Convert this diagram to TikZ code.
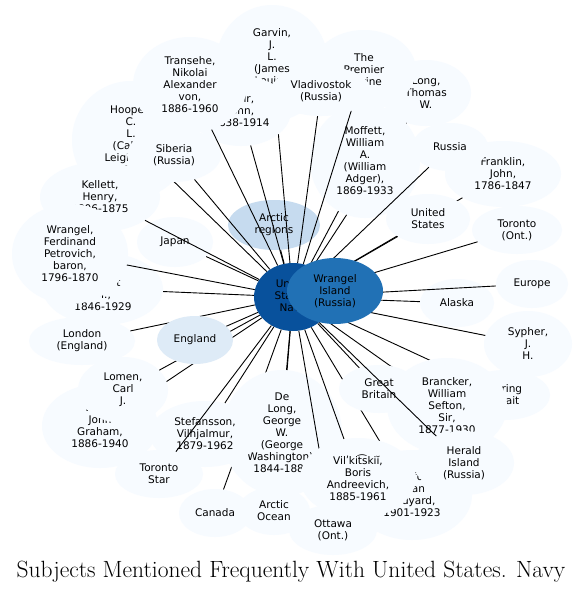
\documentclass[tikz,border=0pt]{standalone}
\usepackage{fontspec}
\newfontfamily\lblfont{DejaVu Sans}
\usetikzlibrary{shapes.geometric}
\definecolor{lite}{HTML}{F7FBFF}
\definecolor{midlite}{HTML}{C6DBEF}
\definecolor{pale}{HTML}{DEEBF7}
\definecolor{wrblue}{HTML}{2171B5}
\definecolor{navyblue}{HTML}{08519C}
\tikzset{
  bub/.style={ellipse, fill=lite, draw=none, inner sep=0pt, align=center,
    font=\lblfont\fontsize{10.5}{12}\selectfont, text=black},
  sz/.style 2 args={minimum width=#1pt, minimum height=#2pt},
  conn/.style={draw=black, line width=0.9pt},
}
\begin{document}
\begin{tikzpicture}[x=1pt,y=-1pt]
\useasboundingbox (0,0) rectangle (584,592);
\fill[white] (0,0) rectangle (584,592);

\node[bub, fill=navyblue, sz={78}{68}] (navy) at (293,297) {United\\States.\\Navy};
\node[bub, fill=midlite, sz={92}{50}] (arctic) at (274,225) {Arctic\\regions};
\node[bub, sz={76}{50}] (japan) at (175,242) {Japan};

\node[bub, sz={118}{118}] (hooper) at (131,140) {Hooper,\\C.\\L.\\(Calvin\\Leighton),\\1842-1900};
\draw[conn] (navy) -- (hooper);
\node[bub, sz={112}{116}] (garvin) at (272,63) {Garvin,\\J.\\L.\\(James\\Louis),\\1868-1947};
\draw[conn] (navy) -- (garvin);
\node[bub, sz={100}{70}] (muir) at (241,111) {Muir,\\John,\\1838-1914};
\draw[conn] (navy) -- (muir);
\node[bub, sz={114}{96}] (transehe) at (190,85) {Transehe,\\Nikolai\\Alexander\\von,\\1886-1960};
\draw[conn] (navy) -- (transehe);
\node[bub, sz={94}{54}] (siberia) at (174,155) {Siberia\\(Russia)};
\draw[conn] (navy) -- (siberia);
\node[bub, sz={120}{70}] (kellett) at (100,197) {Kellett,\\Henry,\\1806-1875};
\draw[conn] (navy) -- (kellett);
\node[bub, sz={120}{72}] (berry) at (103,289) {Berry,\\Robert\\M.,\\1846-1929};
\draw[conn] (navy) -- (berry);
\node[bub, sz={116}{100}] (wrangelf) at (70,254) {Wrangel,\\Ferdinand\\Petrovich,\\baron,\\1796-1870};
\draw[conn] (navy) -- (wrangelf);
\node[bub, sz={106}{48}] (london) at (82,341) {London\\(England)};
\draw[conn] (navy) -- (london);
\draw[conn] (navy) -- (japan);
\draw[conn] (navy) -- (arctic);

\node[bub, sz={116}{84}] (ljohn) at (100,426) {Lunn,\\John\\Graham,\\1886-1940};
\draw[conn] (navy) -- (ljohn);
\node[bub, sz={90}{66}] (lomen) at (123,390) {Lomen,\\Carl\\J.};
\draw[conn] (navy) -- (lomen);
\node[bub, fill=pale, sz={76}{48}] (england) at (195,340) {England};
\draw[conn] (navy) -- (england);

\node[bub, sz={72}{48}] (canada) at (215,513) {Canada};
\draw[conn] (navy) -- (canada);
\node[bub, sz={72}{48}] (arcocean) at (274,511) {Arctic\\Ocean};
\draw[conn] (navy) -- (arcocean);
\node[bub, sz={120}{126}] (delong) at (282,433) {De\\Long,\\George\\W.\\(George\\Washington),\\1844-1881};
\draw[conn] (navy) -- (delong);
\node[bub, sz={110}{66}] (stef) at (205,434) {Stefansson,\\Vilhjalmur,\\1879-1962};
\draw[conn] (navy) -- (stef);
\node[bub, sz={88}{48}] (tstar) at (159,474) {Toronto\\Star};
\draw[conn] (navy) -- (tstar);
\node[bub, sz={88}{50}] (ottawa) at (333,530) {Ottawa\\(Ont.)};
\draw[conn] (navy) -- (ottawa);
\node[bub, sz={120}{90}] (crawford) at (412,495) {Crawford,\\Allan\\Rudyard,\\1901-1923};
\draw[conn] (navy) -- (crawford);
\node[bub, sz={116}{80}] (vilk) at (358,478) {Vilʹkit͡skiĭ,\\Boris\\Andreevich,\\1885-1961};
\draw[conn] (navy) -- (vilk);

\node[bub, sz={90}{50}] (bering) at (505,395) {Bering\\Strait};
\draw[conn] (navy) -- (bering);
\node[bub, sz={120}{96}] (brancker) at (447,406) {Brancker,\\William\\Sefton,\\Sir,\\1877-1930};
\draw[conn] (navy) -- (brancker);
\node[bub, sz={80}{48}] (gbritain) at (379,389) {Great\\Britain};
\draw[conn] (navy) -- (gbritain);
\node[bub, sz={100}{64}] (herald) at (464,463) {Herald\\Island\\(Russia)};
\draw[conn] (navy) -- (herald);

\node[bub, sz={88}{66}] (sypher) at (528,344) {Sypher,\\J.\\H.};
\draw[conn] (navy) -- (sypher);
\node[bub, sz={74}{48}] (alaska) at (457,303) {Alaska};
\draw[conn] (navy) -- (alaska);
\node[bub, sz={72}{48}] (europe) at (532,284) {Europe};
\draw[conn] (navy) -- (europe);
\node[bub, sz={90}{48}] (toronto) at (517,230) {Toronto\\(Ont.)};
\draw[conn] (navy) -- (toronto);
\node[bub, sz={116}{66}] (franklin) at (503,174) {Franklin,\\John,\\1786-1847};
\draw[conn] (navy) -- (franklin);
\node[bub, sz={84}{50}] (ustates) at (428,219) {United\\States};
\draw[conn] (navy) -- (ustates);
\node[bub, sz={90}{66}] (long) at (426,93) {Long,\\Thomas\\W.};
\draw[conn] (navy) -- (long);
\node[bub, sz={110}{114}] (moffett) at (365,161) {Moffett,\\William\\A.\\(William\\Adger),\\1869-1933};
\draw[conn] (navy) -- (moffett);
\node[bub, sz={76}{48}] (russia) at (450,147) {Russia};
\draw[conn] (navy) -- (russia);
\node[bub, sz={104}{80}] (premier) at (364,70) {The\\Premier\\Marine};
\draw[conn] (navy) -- (premier);
\node[bub, sz={100}{50}] (vlad) at (321,91) {Vladivostok\\(Russia)};
\draw[conn] (navy) -- (vlad);

\node[bub, fill=wrblue, sz={96}{66}] (wrangel) at (335,291) {Wrangel\\Island\\(Russia)};

\node[font=\fontsize{23.5}{26}\selectfont, anchor=base, inner sep=0pt] (title) at (291,577) {Subjects Mentioned Frequently With United States. Navy};
\end{tikzpicture}
\end{document}
